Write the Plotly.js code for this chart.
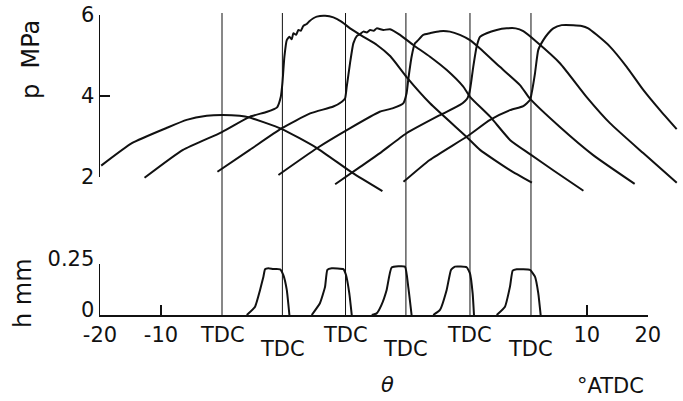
<!DOCTYPE html>
<html><head><meta charset="utf-8">
<script src="https://cdn.plot.ly/plotly-3.0.1.min.js"></script>
<style>html,body{margin:0;padding:0;background:#fff;}#chart{width:683px;height:401px;}</style>
</head><body><div id="chart"></div>
<script>
// ---- data (crank angle in deg relative to each trace's own TDC) ----
const tdcOffsets = [0, 9.9, 20.25, 30.15, 40.65, 50.65];
const tdcLabel = 'TDC';

const angleA = [-19.8, -14.7, -9.1, -5.8, -2.5, 0, 2.9, 4.5, 9.75, 15.5, 21.4, 26.3];
const pressureA = [2.28, 2.84, 3.21, 3.41, 3.51, 3.53, 3.51, 3.47, 3.19, 2.72, 2.10, 1.65];

const angleB = [-22.6, -16.3, -9.9, -5.3, -2.5, -0.87, -0.26, 0, 0.33, 0.72, 1.15, 1.54, 1.8, 2.25, 2.62, 3.02, 3.44, 4.0, 4.38, 5.08, 5.64, 7.0, 8.36, 9.74, 11.1, 13.3, 15.5, 17.7, 20.4, 24.2, 30.2, 32.4, 37.3, 40.9];
const pressureB = [1.98, 2.67, 3.11, 3.49, 3.61, 3.72, 3.98, 4.31, 4.97, 5.38, 5.46, 5.40, 5.55, 5.51, 5.63, 5.61, 5.73, 5.78, 5.84, 5.92, 5.96, 5.98, 5.94, 5.83, 5.67, 5.46, 5.26, 4.98, 4.46, 3.82, 2.99, 2.67, 2.17, 1.86];

const angleC = [-21.0, -15.7, -10.5, -5.8, -2.0, -0.6, -0.08, 0.2, 0.74, 1.28, 1.84, 2.4, 2.92, 3.5, 4.02, 4.6, 5.11, 6.2, 7.3, 8.93, 11.1, 13.85, 16.6, 19.3, 20.4, 23.7, 27.0, 30.3, 34.1, 39.0];
const pressureC = [2.13, 2.67, 3.2, 3.57, 3.74, 3.86, 3.94, 4.23, 4.81, 5.30, 5.48, 5.53, 5.59, 5.57, 5.63, 5.61, 5.67, 5.63, 5.65, 5.51, 5.26, 4.97, 4.64, 4.23, 3.98, 3.49, 2.91, 2.56, 2.16, 1.66];

const angleD = [-20.9, -14.6, -9.2, -4.3, -2.1, -0.44, 0.11, 0.38, 0.93, 1.48, 2.02, 2.84, 3.93, 5.57, 7.21, 8.85, 10.5, 12.1, 15.4, 18.7, 20.3, 25.2, 30.7, 37.5];
const pressureD = [2.05, 2.71, 3.2, 3.61, 3.70, 3.82, 4.07, 4.40, 4.97, 5.30, 5.38, 5.51, 5.55, 5.60, 5.59, 5.51, 5.38, 5.18, 4.72, 4.27, 3.94, 3.24, 2.54, 1.83];

const angleE = [-22.1, -18.0, -14.75, -10.4, -4.9, -1.64, -0.44, 0, 0.54, 1.1, 1.64, 2.74, 4.38, 6.02, 7.5, 8.74, 10.9, 14.75, 19.1, 22.95, 28.4, 33.9];
const pressureE = [1.82, 2.25, 2.59, 3.08, 3.53, 3.78, 3.94, 4.15, 4.72, 5.22, 5.46, 5.55, 5.63, 5.67, 5.67, 5.60, 5.34, 4.81, 3.98, 3.33, 2.59, 1.86];

const angleF = [-20.9, -16.6, -10.5, -6.7, -3.44, -1.26, -0.16, 0.11, 0.66, 1.2, 2.02, 2.84, 3.66, 5.03, 6.95, 8.31, 9.39, 10.77, 12.95, 15.69, 18.41, 21.15, 23.89];
const pressureF = [1.88, 2.42, 3.0, 3.41, 3.65, 3.75, 3.9, 4.07, 4.56, 5.14, 5.38, 5.55, 5.67, 5.75, 5.75, 5.73, 5.67, 5.51, 5.22, 4.72, 4.15, 3.65, 3.18];

const liftAngle1 = [-5.84, -4.48, -3.66, -3.11, -2.84, -2.3, -1.48, -0.38, 0.16, 0.72, 1.15];
const lift1 = [0, 0.041, 0.123, 0.188, 0.224, 0.229, 0.225, 0.224, 0.196, 0.123, 0];
const liftAngle2 = [-5.54, -4.18, -3.36, -2.98, -2.26, -0.36, 0.08, 0.62, 1.02];
const lift2 = [0, 0.059, 0.138, 0.221, 0.229, 0.225, 0.196, 0.106, 0];
const liftAngle3 = [-5.6, -4.8, -4.0, -3.16, -2.34, -0.16, 0.38, 0.93];
const lift3 = [0, 0.008, 0.05, 0.123, 0.233, 0.237, 0.139, 0];
const liftAngle4 = [-6.02, -4.92, -3.82, -3.11, -2.46, -0.54, 0, 0.44, 0.66];
const lift4 = [0, 0.025, 0.123, 0.221, 0.237, 0.234, 0.204, 0.106, 0];
const liftAngle5 = [-5.62, -4.26, -3.44, -3.0, -2.34, -0.16, 0.66, 1.2, 1.59];
const lift5 = [0, 0.041, 0.139, 0.217, 0.224, 0.221, 0.188, 0.106, 0];

const pTickVals = [2, 4, 6];
const pTickText = ['2', '4', '6'];
const hTickVals = [0, 0.25];
const hTickText = ['0', '0.25'];
const xTickVals = [-20, -10, 59.8, 69.8];
const xTickText = ['-20', '-10', '10', '20'];

// ---- layout geometry ----
const W = 683, H = 401, L = 100, R = 3, T = 10, B = 86;
const plotW = W - L - R, plotH = H - T - B;
const pxPerDeg = 6.1;
const xStart = -20;
const fy = py => (H - B - py) / plotH;
const fx = px => (px - L) / plotW;
const ink = '#111';
const FONT = 'DejaVu Sans, Arial, sans-serif';

const pAngles = [angleA, angleB, angleC, angleD, angleE, angleF];
const pValues = [pressureA, pressureB, pressureC, pressureD, pressureE, pressureF];
const hAngles = [liftAngle1, liftAngle2, liftAngle3, liftAngle4, liftAngle5];
const hValues = [lift1, lift2, lift3, lift4, lift5];

const traces = [];
pAngles.forEach((a, i) => {
  traces.push({type: 'scatter', mode: 'lines', xaxis: 'x', yaxis: 'y',
    x: a.map(v => v + tdcOffsets[i]), y: pValues[i],
    line: {color: ink, width: 2, shape: 'spline', smoothing: 0.5}, hoverinfo: 'skip'});
});
hAngles.forEach((a, i) => {
  traces.push({type: 'scatter', mode: 'lines', xaxis: 'x2', yaxis: 'y2',
    x: a.map(v => v + tdcOffsets[i + 1]), y: hValues[i],
    line: {color: ink, width: 2, shape: 'spline', smoothing: 0.4}, hoverinfo: 'skip'});
});
// empty trace so that the p-axis (y3) subplot is created and drawn
traces.push({type: 'scatter', mode: 'lines', xaxis: 'x', yaxis: 'y3', x: [], y: [], hoverinfo: 'skip'});

const shapes = tdcOffsets.map(x => ({type: 'line', xref: 'x', yref: 'paper',
  x0: x, x1: x, y0: 0, y1: fy(13), line: {color: ink, width: 1}}));

const annotations = tdcOffsets.map((x, i) => ({xref: 'x', yref: 'paper', x: x, y: 0,
  text: tdcLabel, showarrow: false, xanchor: 'center', yanchor: 'middle',
  yshift: i % 2 === 0 ? -20 : -34, font: {family: FONT, size: 21, color: ink}}));
annotations.push(
  {xref: 'paper', yref: 'paper', x: fx(31), y: fy(60), text: 'p  MPa', textangle: -90, showarrow: false,
   xanchor: 'center', yanchor: 'middle', font: {family: FONT, size: 24, color: ink}},
  {xref: 'paper', yref: 'paper', x: fx(23), y: fy(293), text: 'h mm', textangle: -90, showarrow: false,
   xanchor: 'center', yanchor: 'middle', font: {family: FONT, size: 24, color: ink}},
  {xref: 'paper', yref: 'paper', x: fx(387), y: fy(385), text: '<i>θ</i>', showarrow: false,
   xanchor: 'center', yanchor: 'middle', font: {family: FONT, size: 21, color: ink}},
  {xref: 'paper', yref: 'paper', x: fx(610), y: fy(386), text: '°ATDC', showarrow: false,
   xanchor: 'center', yanchor: 'middle', font: {family: FONT, size: 21, color: ink}}
);

const axBase = {showgrid: false, zeroline: false, fixedrange: true, linecolor: ink, linewidth: 1.5,
  tickcolor: ink, tickwidth: 1.5, ticks: 'inside', tickfont: {family: FONT, size: 21, color: ink}};

const layout = {
  width: W, height: H, margin: {l: L, r: R, t: T, b: B},
  paper_bgcolor: '#fff', plot_bgcolor: 'rgba(0,0,0,0)', showlegend: false,
  font: {family: FONT, size: 21, color: ink},
  xaxis: {domain: [0, 1], range: [xStart, xStart + plotW / pxPerDeg], anchor: 'y', visible: false, fixedrange: true},
  yaxis: {domain: [fy(195), 1], range: [2 - 18 / 40.5, 6 + 5 / 40.5], anchor: 'x', visible: false, fixedrange: true},
  yaxis3: Object.assign({}, axBase, {domain: [fy(177), fy(15)], range: [2, 6], anchor: 'x',
    showline: true, ticklen: 10, tickvals: pTickVals, ticktext: pTickText, ticklabelstandoff: 0}),
  xaxis2: Object.assign({}, axBase, {domain: [0, fx(648)], range: [xStart, xStart + (648 - L) / pxPerDeg],
    anchor: 'y2', showline: true, ticklen: 10, tickvals: xTickVals, ticktext: xTickText}),
  yaxis2: Object.assign({}, axBase, {domain: [0, fy(264)], range: [0, 0.25], anchor: 'x2',
    showline: true, ticklen: 8, tickvals: hTickVals, ticktext: hTickText, ticklabelshift: -5}),
  shapes: shapes, annotations: annotations
};

Plotly.newPlot('chart', traces, layout, {staticPlot: true, displayModeBar: false});
</script>
</body></html>
